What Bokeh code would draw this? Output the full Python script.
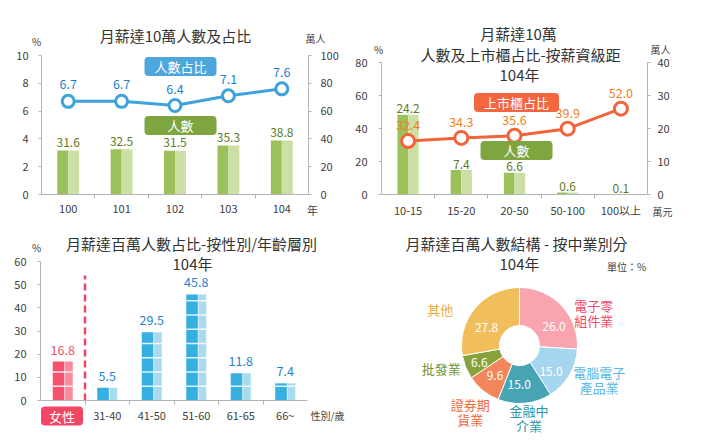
import numpy as np
from bokeh.plotting import figure
from bokeh.models import (Range1d, LinearAxis, FixedTicker, SingleIntervalTicker,
                          Label, ColumnDataSource, Grid)
from bokeh.layouts import column, row
from bokeh.embed import file_html
from bokeh.resources import INLINE
from bokeh.core.properties import value

FONT = "Noto Sans CJK TC"

# ---------------- data ----------------
years = ["100", "101", "102", "103", "104"]
earners_10w = [31.6, 32.5, 31.5, 35.3, 38.8]        # 萬人
share_10w = [6.7, 6.7, 6.4, 7.1, 7.6]               # %

bands = ["10-15", "15-20", "20-50", "50-100", "100以上"]
band_people = [24.2, 7.4, 6.6, 0.6, 0.1]            # 萬人
band_listed_share = [32.4, 34.3, 35.6, 39.9, 52.0]  # %

groups = ["女性", "31-40", "41-50", "51-60", "61-65", "66~"]
group_share = [16.8, 5.5, 29.5, 45.8, 11.8, 7.4]    # %

industries = ["電子零\n組件業", "電腦電子\n產品業", "金融中\n介業", "證券期\n貨業", "批發業", "其他"]
industry_share = [26.0, 15.0, 15.0, 9.6, 6.6, 27.8]  # %

# ---------------- style ----------------
AXIS = "#b4b4b4"
TICK_TXT = "#404040"
TITLE_TXT = "#333333"
GREEN_D, GREEN_L, GREEN_BOX, GREEN_TXT = "#9cc05a", "#cce0a6", "#7fa541", "#5b7b24"
BLUE_LINE, BLUE_TXT, BLUE_BOX = "#3ea2dc", "#1f7fcf", "#4ea7dc"
ORANGE_LINE, ORANGE_TXT, ORANGE_BOX = "#f2643a", "#f07f22", "#f4663f"
BAR3_D, BAR3_L = "#36b0e0", "#a8daf0"
RED_D, RED_L, RED_TXT, RED_BOX = "#f5526d", "#f88a9b", "#f04e6a", "#f24764"
SLICE_COLORS = ["#f8a5b0", "#a6d5f0", "#47a4b3", "#f3855a", "#86a23b", "#f1be5c"]
SLICE_TXT = ["#ee4a6a", "#5ab7e8", "#2e94a6", "#ef6a3e", "#6f9430", "#eda93a"]

# panel geometry in page pixels: figure box and the data box (axes area)
G1 = dict(ox=0, oy=0, w=352, h=220, fl=41, fr=308, ft=55, fb=194, xd=(0, len(years)), yd=(0, 10))
G2 = dict(ox=352, oy=0, w=352, h=220, fl=381, fr=647, ft=62, fb=194, xd=(0, len(bands)), yd=(0, 80))
G3 = dict(ox=0, oy=220, w=352, h=220, fl=40, fr=307, ft=261, fb=400, xd=(0, len(groups)), yd=(0, 60))
G4 = dict(ox=352, oy=220, w=352, h=220, fl=352, fr=704, ft=220, fb=440, xd=(0, 352), yd=(0, 220))


def ranges(g, yd=None):
    x0, x1 = g["xd"]
    y0, y1 = yd if yd is not None else g["yd"]
    kx = (g["fr"] - g["fl"]) / (x1 - x0)
    ky = (g["fb"] - g["ft"]) / (y1 - y0)
    xr = (x0 - (g["fl"] - g["ox"]) / kx, x0 + (g["ox"] + g["w"] - g["fl"]) / kx)
    yr = (y0 - (g["oy"] + g["h"] - g["fb"]) / ky, y1 + (g["ft"] - g["oy"]) / ky)
    return xr, yr


def to_data(g, ax, ay):
    x0, x1 = g["xd"]
    y0, y1 = g["yd"]
    x = x0 + (ax - g["fl"]) / (g["fr"] - g["fl"]) * (x1 - x0)
    y = y0 + (g["fb"] - ay) / (g["fb"] - g["ft"]) * (y1 - y0)
    return x, y


def make_fig(g):
    xr, yr = ranges(g)
    p = figure(width=g["w"], height=g["h"], x_range=Range1d(*xr), y_range=Range1d(*yr),
               output_backend="svg", toolbar_location=None, min_border=0,
               x_axis_location=None, y_axis_location=None)
    p.center = [r for r in p.center if not isinstance(r, Grid)]
    p.outline_line_color = None
    p.background_fill_color = "white"
    p.border_fill_color = "white"
    return p


def y_axis(p, side, loc, bounds, interval, standoff=9, range_name="default"):
    ax = LinearAxis(fixed_location=loc, bounds=bounds, y_range_name=range_name)
    ax.ticker = SingleIntervalTicker(interval=interval, num_minor_ticks=0)
    ax.axis_line_color = AXIS
    ax.major_tick_line_color = AXIS
    ax.major_tick_in = 0
    ax.major_tick_out = 3
    ax.minor_tick_line_color = None
    ax.major_label_text_font = FONT
    ax.major_label_text_font_size = "11px"
    ax.major_label_text_color = TICK_TXT
    ax.major_label_standoff = standoff
    p.add_layout(ax, side)
    return ax


def x_axis(p, labels, standoff=9, blank_first=False):
    n = len(labels)
    centers = [i + 0.5 for i in range(n)]
    ax = LinearAxis(fixed_location=0, bounds=(0, n))
    ax.ticker = FixedTicker(ticks=centers, minor_ticks=list(range(1, n)))
    ov = {c: lab for c, lab in zip(centers, labels)}
    if blank_first:
        ov[centers[0]] = ""
    ax.major_label_overrides = ov
    ax.axis_line_color = AXIS
    ax.major_tick_line_color = None
    ax.major_tick_in = 0
    ax.major_tick_out = 0
    ax.minor_tick_line_color = AXIS
    ax.minor_tick_in = 0
    ax.minor_tick_out = 4
    ax.major_label_text_font = FONT
    ax.major_label_text_font_size = "11px"
    ax.major_label_text_color = TICK_TXT
    ax.major_label_standoff = standoff
    p.add_layout(ax, "below")
    return ax


def put(p, g, text, ax, ay, size="11px", color=TICK_TXT, bg=None, box_w=None):
    x, y = to_data(g, ax, ay)
    kw = {}
    if bg is not None:
        fs = float(size.replace("px", ""))
        ph = max(0, int(round((box_w - len(text) * fs) / 2)))
        kw = dict(background_fill_color=bg, border_radius=4,
                  padding=dict(left=ph, right=ph, top=0, bottom=0))
    p.add_layout(Label(x=x, y=y, text=text, text_font=FONT, text_font_size=size,
                       text_color=color, text_align="center", text_baseline="middle", **kw))


def vlabels(p, x, y, vals, color, yoff, size="12px", **kw):
    p.text(x=list(x), y=list(y), text=[f"{v:.1f}" for v in vals], text_font=value(FONT),
           text_font_size=value(size), text_color=color, text_align="center",
           text_baseline="middle", y_offset=yoff, **kw)


def twotone(p, x, tops, bw, dark, light, split=0.5, **kw):
    x = np.asarray(x)
    wd, wl = bw * split, bw * (1 - split)
    p.vbar(x=x - bw / 2 + wd / 2, width=wd, top=tops, fill_color=dark, line_color=None, **kw)
    p.vbar(x=x + bw / 2 - wl / 2, width=wl, top=tops, fill_color=light, line_color=None, **kw)


# ---------------- panel 1 ----------------
p1 = make_fig(G1)
n_max1 = 100
p1.extra_y_ranges = {"n": Range1d(*ranges(G1, (0, n_max1))[1])}
x1 = np.arange(len(years)) + 0.5
twotone(p1, x1, earners_10w, 0.41, GREEN_D, GREEN_L, y_range_name="n")
p1.line(x1, share_10w, color=BLUE_LINE, line_width=3)
p1.scatter(x1, share_10w, size=12, fill_color="white", line_color=BLUE_LINE, line_width=3)
vlabels(p1, x1, earners_10w, earners_10w, GREEN_TXT, -8, y_range_name="n")
vlabels(p1, x1, share_10w, share_10w, BLUE_TXT, -17, size="12.5px")
y_axis(p1, "left", 0, G1["yd"], 2, standoff=10)
y_axis(p1, "right", len(years), (0, n_max1), 20, standoff=9, range_name="n")
x_axis(p1, years, standoff=6)
put(p1, G1, "月薪達10萬人數及占比", 175, 35, "15px", TITLE_TXT)
put(p1, G1, "%", 36, 41, "10px")
put(p1, G1, "萬人", 315, 38, "10px")
put(p1, G1, "年", 312, 209, "11px")
put(p1, G1, "人數占比", 180, 66, "13px", "white", BLUE_BOX, 72)
put(p1, G1, "人數", 180, 125, "13px", "white", GREEN_BOX, 72)

# ---------------- panel 2 ----------------
p2 = make_fig(G2)
n_max2 = 40
p2.extra_y_ranges = {"n": Range1d(*ranges(G2, (0, n_max2))[1])}
x2 = np.arange(len(bands)) + 0.5
twotone(p2, x2, band_people, 0.4, GREEN_D, GREEN_L, y_range_name="n")
p2.line(x2, band_listed_share, color=ORANGE_LINE, line_width=3)
p2.scatter(x2, band_listed_share, size=13, fill_color="white", line_color=ORANGE_LINE, line_width=3)
vlabels(p2, x2, band_people, band_people, GREEN_TXT, -6, y_range_name="n")
vlabels(p2, x2, band_listed_share, band_listed_share, ORANGE_TXT, -16, size="12.5px")
y_axis(p2, "left", 0, G2["yd"], 20, standoff=11)
y_axis(p2, "right", len(bands), (0, n_max2), 10, standoff=7, range_name="n")
x_axis(p2, bands, standoff=3)
put(p2, G2, "月薪達10萬", 518, 33, "15px", TITLE_TXT)
put(p2, G2, "人數及上市櫃占比-按薪資級距", 520, 54, "15px", TITLE_TXT)
put(p2, G2, "104年", 519, 74, "15px", TITLE_TXT)
put(p2, G2, "%", 378, 49, "10px")
put(p2, G2, "萬人", 660, 49, "10px")
put(p2, G2, "萬元", 662, 211, "10px")
put(p2, G2, "上市櫃占比", 516, 102, "13px", "white", ORANGE_BOX, 85)
put(p2, G2, "人數", 516, 150, "13px", "white", GREEN_BOX, 72)

# ---------------- panel 3 ----------------
p3 = make_fig(G3)
x3 = np.arange(len(groups)) + 0.5
bw3 = 0.45
n_gender = 1
dark3 = [RED_D] * n_gender + [BAR3_D] * (len(groups) - n_gender)
light3 = [RED_L] * n_gender + [BAR3_L] * (len(groups) - n_gender)
twotone(p3, x3, group_share, bw3, dark3, light3, split=0.6)
tile = 6.15
sx0, sx1, sy = [], [], []
for c, v in zip(x3, group_share):
    for yv in np.arange(tile, v - 1.0, tile):
        sx0.append(c - bw3 / 2)
        sx1.append(c + bw3 / 2)
        sy.append(yv)
p3.segment(x0=sx0, x1=sx1, y0=sy, y1=sy, line_color="white", line_width=1.5, line_alpha=0.85)
p3.segment(x0=list(x3 - bw3 / 2 + 0.6 * bw3), x1=list(x3 - bw3 / 2 + 0.6 * bw3),
           y0=[0] * len(x3), y1=group_share, line_color="white", line_width=1, line_alpha=0.6)
lab_col = [RED_TXT] * n_gender + [BLUE_TXT] * (len(groups) - n_gender)
vlabels(p3, x3, group_share, group_share, lab_col, -12, size="12.5px")
p3.segment(x0=[n_gender], x1=[n_gender], y0=[0], y1=[54], line_color=RED_BOX,
           line_width=2.5, line_dash="7 4")
y_axis(p3, "left", 0, G3["yd"], 10, standoff=11)
x_axis(p3, groups, standoff=2, blank_first=True)
put(p3, G3, "月薪達百萬人數占比-按性別/年齡層別", 191, 243, "15px", TITLE_TXT)
put(p3, G3, "104年", 192, 263, "15px", TITLE_TXT)
put(p3, G3, "%", 36, 247, "10px")
put(p3, G3, "性別/歲", 327, 415, "10px")
put(p3, G3, groups[0], 61.5, 415.5, "13px", "white", RED_BOX, 43)

# ---------------- panel 4 ----------------
p4 = make_fig(G4)
cx, cy = to_data(G4, 519, 345)
R_OUT, R_IN = 58, 20
frac = np.array(industry_share) / np.sum(industry_share)
cum = np.concatenate([[0.0], np.cumsum(frac)])
start = np.pi / 2 - 2 * np.pi * cum[:-1]
end = np.pi / 2 - 2 * np.pi * cum[1:]
mid = (start + end) / 2
src = ColumnDataSource(dict(start=start, end=end, color=SLICE_COLORS))
p4.annular_wedge(x=cx, y=cy, inner_radius=R_IN, outer_radius=R_OUT, start_angle="start",
                 end_angle="end", direction="clock", fill_color="color", line_color="white",
                 line_width=1, source=src)
inner_nudge = [(6, -8), (-2, -6), (-4, 0), (0, 0), (-4, -2), (-3, -7)]
ix = cx + 39 * np.cos(mid) + np.array([d[0] for d in inner_nudge])
iy = cy + 39 * np.sin(mid) + np.array([d[1] for d in inner_nudge])
p4.text(x=list(ix), y=list(iy), text=[f"{v:.1f}" for v in industry_share],
        text_font=value(FONT), text_font_size=value("12px"), text_color="white",
        text_align="center", text_baseline="middle")
outer_nudge = [(16, -22), (11, 6), (2, 7), (1, -4), (-4, 7), (-18, -15)]
LINE_GAP = 15
lx, ly, lt, lc, lo = [], [], [], [], []
for i, name in enumerate(industries):
    parts = name.split("\n")
    bx = cx + 80 * np.cos(mid[i]) + outer_nudge[i][0]
    by = cy + 80 * np.sin(mid[i]) + outer_nudge[i][1]
    for k, part in enumerate(parts):
        lx.append(bx)
        ly.append(by)
        lt.append(part)
        lc.append(SLICE_TXT[i])
        lo.append((k - (len(parts) - 1) / 2) * LINE_GAP)
p4.text(x="x", y="y", text="t", y_offset="o", text_color="c",
        source=ColumnDataSource(dict(x=lx, y=ly, t=lt, c=lc, o=lo)),
        text_font=value(FONT), text_font_size=value("13px"), text_align="center",
        text_baseline="middle")
put(p4, G4, "月薪達百萬人數結構 - 按中業別分", 516, 243, "15px", TITLE_TXT)
put(p4, G4, "104年", 519, 263, "15px", TITLE_TXT)
put(p4, G4, "單位：%", 626, 266, "10px")

layout = column(row(p1, p2), row(p3, p4))
open("out.html", "w").write(file_html(layout, INLINE))
